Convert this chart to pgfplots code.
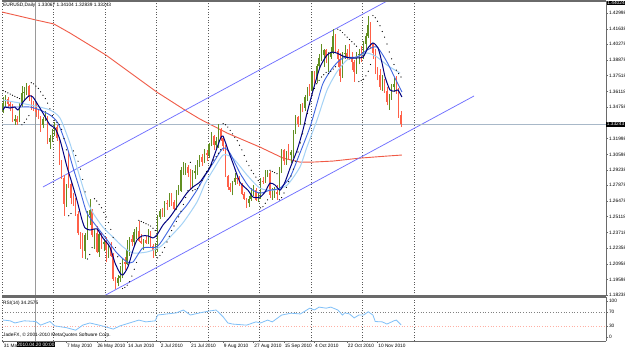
\documentclass[border=0pt]{standalone}
\usepackage{pgfplots}
\pgfplotsset{compat=1.18}
\usepackage{pgfplotstable}
\usepackage{fontspec}
\setmainfont{Liberation Sans}

\definecolor{upc}{HTML}{628F22}
\definecolor{dnc}{HTML}{FF6048}
\definecolor{navyc}{HTML}{000080}
\definecolor{midb}{HTML}{3F66E0}
\definecolor{lightb}{HTML}{A4D2F6}
\definecolor{ma200}{HTML}{F05A46}
\definecolor{chan}{HTML}{7070FF}
\definecolor{pline}{HTML}{A8B8C8}
\definecolor{rsic}{HTML}{80C0F8}
\definecolor{framec}{HTML}{6A6A6A}
\definecolor{gridc}{HTML}{5A5A5A}
\definecolor{crossc}{HTML}{9A9A9A}
\definecolor{sarc}{HTML}{8A8A8A}
\newcommand\tf{\fontsize{4.8}{5.4}\selectfont}
\pgfplotsset{gridsty/.style={dash pattern=on 0.9bp off 1.8bp, gridc, line width=0.55bp}}

\pgfplotstableread{
i o h l c
0 1.3440 1.3560 1.3420 1.3510
1 1.3510 1.3580 1.3480 1.3550
2 1.3550 1.3560 1.3480 1.3500
3 1.3500 1.3530 1.3440 1.3485
4 1.3485 1.3500 1.3340 1.3355
5 1.3355 1.3410 1.3320 1.3370
6 1.3370 1.3400 1.3320 1.3345
7 1.3345 1.3510 1.3340 1.3490
8 1.3490 1.3660 1.3480 1.3600
9 1.3600 1.3650 1.3540 1.3610
10 1.3610 1.3690 1.3580 1.3660
11 1.3660 1.3670 1.3530 1.3560
12 1.3560 1.3580 1.3450 1.3500
13 1.3500 1.3530 1.3440 1.3480
14 1.3480 1.3520 1.3390 1.3430
15 1.3430 1.3460 1.3370 1.3390
16 1.3390 1.3400 1.3260 1.3320
17 1.3320 1.3390 1.3290 1.3370
18 1.3370 1.3440 1.3350 1.3380
19 1.3380 1.3400 1.3150 1.3170
20 1.3170 1.3230 1.3110 1.3200
21 1.3200 1.3280 1.3170 1.3250
22 1.3250 1.3340 1.3220 1.3300
23 1.3300 1.3320 1.3180 1.3200
24 1.3200 1.3210 1.2970 1.2990
25 1.2990 1.3010 1.2840 1.2850
26 1.2850 1.2880 1.2520 1.2620
27 1.2620 1.2800 1.2600 1.2750
28 1.2880 1.3090 1.2760 1.2800
29 1.2800 1.2830 1.2620 1.2680
30 1.2680 1.2720 1.2610 1.2630
31 1.2630 1.2680 1.2520 1.2540
32 1.2540 1.2560 1.2350 1.2370
33 1.2370 1.2380 1.2230 1.2340
34 1.2340 1.2370 1.2150 1.2210
35 1.2210 1.2370 1.2140 1.2350
36 1.2350 1.2560 1.2310 1.2530
37 1.2530 1.2670 1.2440 1.2570
38 1.2570 1.2580 1.2330 1.2350
39 1.2350 1.2400 1.2230 1.2370
40 1.2370 1.2430 1.2190 1.2200
41 1.2200 1.2380 1.2160 1.2360
42 1.2360 1.2380 1.2230 1.2270
43 1.2270 1.2320 1.2210 1.2290
44 1.2290 1.2330 1.2110 1.2220
45 1.2220 1.2270 1.2150 1.2225
46 1.2225 1.2290 1.2160 1.2170
47 1.2170 1.2190 1.1950 1.1960
48 1.1960 1.1980 1.1880 1.1930
49 1.1930 1.2000 1.1900 1.1970
50 1.1970 1.2080 1.1940 1.1990
51 1.1990 1.2140 1.1970 1.2110
52 1.2110 1.2160 1.2040 1.2100
53 1.2100 1.2310 1.2090 1.2220
54 1.2220 1.2330 1.2170 1.2320
55 1.2320 1.2350 1.2250 1.2290
56 1.2290 1.2400 1.2250 1.2380
57 1.2380 1.2420 1.2320 1.2390
58 1.2390 1.2470 1.2290 1.2300
59 1.2300 1.2360 1.2270 1.2280
60 1.2280 1.2320 1.2220 1.2310
61 1.2310 1.2340 1.2270 1.2280
62 1.2280 1.2400 1.2270 1.2380
63 1.2380 1.2390 1.2240 1.2250
64 1.2250 1.2270 1.2150 1.2210
65 1.2210 1.2280 1.2170 1.2230
66 1.2230 1.2530 1.2200 1.2510
67 1.2510 1.2580 1.2490 1.2560
68 1.2560 1.2590 1.2510 1.2530
69 1.2530 1.2650 1.2510 1.2630
70 1.2630 1.2660 1.2570 1.2620
71 1.2620 1.2720 1.2600 1.2700
72 1.2700 1.2720 1.2610 1.2640
73 1.2640 1.2660 1.2560 1.2580
74 1.2580 1.2750 1.2570 1.2730
75 1.2730 1.2790 1.2700 1.2740
76 1.2740 1.2950 1.2730 1.2920
77 1.2920 1.2990 1.2880 1.2930
78 1.2930 1.2980 1.2880 1.2950
79 1.2950 1.2970 1.2860 1.2900
80 1.2900 1.2930 1.2750 1.2770
81 1.2770 1.2920 1.2760 1.2900
82 1.2900 1.2970 1.2840 1.2910
83 1.2910 1.3010 1.2880 1.2990
84 1.2990 1.3050 1.2950 1.3040
85 1.3040 1.3060 1.2960 1.2990
86 1.2990 1.3110 1.2980 1.3070
87 1.3070 1.3100 1.3000 1.3050
88 1.3050 1.3160 1.3030 1.3150
89 1.3150 1.3260 1.3130 1.3220
90 1.3220 1.3230 1.3100 1.3140
91 1.3140 1.3210 1.3120 1.3180
92 1.3180 1.3330 1.3120 1.3280
93 1.3280 1.3290 1.3180 1.3200
94 1.3200 1.3220 1.3090 1.3130
95 1.3130 1.3140 1.2860 1.2870
96 1.2870 1.2880 1.2750 1.2770
97 1.2770 1.2810 1.2730 1.2750
98 1.2750 1.2830 1.2700 1.2820
99 1.2820 1.2900 1.2790 1.2850
100 1.2850 1.2880 1.2800 1.2840
101 1.2840 1.2870 1.2780 1.2800
102 1.2800 1.2810 1.2700 1.2710
103 1.2710 1.2730 1.2660 1.2670
104 1.2670 1.2680 1.2590 1.2630
105 1.2630 1.2690 1.2600 1.2670
106 1.2670 1.2760 1.2650 1.2720
107 1.2720 1.2790 1.2690 1.2750
108 1.2750 1.2760 1.2650 1.2660
109 1.2660 1.2720 1.2640 1.2680
110 1.2680 1.2850 1.2670 1.2830
111 1.2830 1.2860 1.2800 1.2820
112 1.2820 1.2920 1.2810 1.2890
113 1.2890 1.2920 1.2860 1.2900
114 1.2900 1.2910 1.2680 1.2700
115 1.2700 1.2760 1.2660 1.2720
116 1.2720 1.2770 1.2680 1.2730
117 1.2730 1.2790 1.2660 1.2710
118 1.2710 1.2950 1.2700 1.2930
119 1.2930 1.3110 1.2900 1.3100
120 1.3100 1.3110 1.2970 1.3000
121 1.3000 1.3090 1.2970 1.3070
122 1.3070 1.3150 1.3010 1.3050
123 1.3050 1.3100 1.2980 1.3080
124 1.3080 1.3270 1.3030 1.3250
125 1.3250 1.3410 1.3240 1.3390
126 1.3390 1.3400 1.3300 1.3330
127 1.3330 1.3500 1.3320 1.3490
128 1.3490 1.3510 1.3430 1.3470
129 1.3470 1.3580 1.3440 1.3560
130 1.3560 1.3650 1.3530 1.3630
131 1.3630 1.3680 1.3570 1.3620
132 1.3620 1.3790 1.3610 1.3780
133 1.3780 1.3790 1.3680 1.3720
134 1.3720 1.3850 1.3690 1.3840
135 1.3840 1.3940 1.3820 1.3910
136 1.3910 1.4030 1.3880 1.3930
137 1.3930 1.3990 1.3830 1.3980
138 1.3980 1.3990 1.3860 1.3910
139 1.3910 1.3960 1.3780 1.3920
140 1.3920 1.4000 1.3900 1.3950
141 1.3950 1.4160 1.3940 1.4100
142 1.4100 1.4120 1.3950 1.3970
143 1.3970 1.3990 1.3830 1.3900
144 1.3900 1.3950 1.3700 1.3750
145 1.3750 1.3960 1.3730 1.3940
146 1.3940 1.4020 1.3900 1.3950
147 1.3950 1.3990 1.3890 1.3920
148 1.3920 1.4030 1.3890 1.3900
149 1.3900 1.3960 1.3800 1.3870
150 1.3870 1.3890 1.3700 1.3780
151 1.3780 1.3960 1.3770 1.3930
152 1.3930 1.3990 1.3850 1.3940
153 1.3940 1.4010 1.3870 1.3930
154 1.3930 1.4060 1.3900 1.4030
155 1.4030 1.4130 1.3970 1.4100
156 1.4100 1.4280 1.4080 1.4200
157 1.4200 1.4220 1.3990 1.4030
158 1.4030 1.4040 1.3900 1.3950
159 1.3950 1.3990 1.3770 1.3780
160 1.3780 1.3830 1.3710 1.3760
161 1.3760 1.3810 1.3630 1.3650
162 1.3650 1.3760 1.3620 1.3700
163 1.3700 1.3720 1.3600 1.3620
164 1.3620 1.3650 1.3490 1.3520
165 1.3520 1.3590 1.3450 1.3550
166 1.3550 1.3680 1.3540 1.3650
167 1.3650 1.3730 1.3610 1.3680
168 1.3680 1.3750 1.3590 1.3620
169 1.3620 1.3640 1.3380 1.3410
170 1.3410 1.3440 1.3300 1.3324
}\ohlc

\pgfplotstableread{
i p
0 1.3450
0.8 1.3476
2.9 1.3467
5.0 1.3476
6.3 1.3450
8.5 1.3520
11.0 1.3573
12.7 1.3564
14.9 1.3494
17.0 1.3423
20.0 1.3318
22.1 1.3292
24.3 1.3186
27.3 1.2949
29.4 1.2808
31.5 1.2659
33.7 1.2483
35.0 1.2413
37.1 1.2395
40.1 1.2404
42.6 1.2325
45.6 1.2246
47.8 1.2105
49.9 1.2017
51.2 1.2000
53.3 1.2070
55.5 1.2220
57.2 1.2307
59.3 1.2343
61.9 1.2343
64.0 1.2325
65.7 1.2351
68.3 1.2439
71.3 1.2509
74.3 1.2597
76.4 1.2659
78.5 1.2720
81.1 1.2773
84.1 1.2817
86.2 1.2879
88.4 1.2949
92.6 1.3186
93.9 1.3221
96.1 1.3098
98.2 1.2982
101.2 1.2815
104.6 1.2745
106.8 1.2684
109.7 1.2684
111.9 1.2728
114.0 1.2807
116.2 1.2790
118.3 1.2745
120.4 1.2815
122.6 1.2939
125.6 1.3097
128.1 1.3273
129.8 1.3420
132.4 1.3620
135.4 1.3827
138.4 1.3933
140.5 1.3959
142.6 1.3950
145.2 1.3924
148.2 1.3907
151.2 1.3907
153.8 1.3916
155.9 1.3995
158.0 1.4039
160.2 1.3995
161.9 1.3863
163.2 1.3740
165.3 1.3626
167.4 1.3617
168.7 1.3626
170.4 1.3564
}\maFast

\pgfplotstableread{
i p
0 1.3476
7.2 1.3476
11.5 1.3476
15.7 1.3450
20.0 1.3406
23.4 1.3335
27.3 1.3124
29.8 1.2948
32.8 1.2747
35.8 1.2545
40.1 1.2422
44.4 1.2308
48.6 1.2193
52.9 1.2114
55.5 1.2114
59.7 1.2237
65.7 1.2246
70.0 1.2369
74.3 1.2510
78.5 1.2614
82.8 1.2746
86.2 1.2870
89.7 1.2983
94.0 1.3115
96.9 1.3071
101.2 1.2895
105.5 1.2763
109.7 1.2719
114.0 1.2745
118.3 1.2763
122.6 1.2859
126.8 1.3070
131.1 1.3299
134.0 1.3500
136.7 1.3686
141.0 1.3827
145.2 1.3907
151.2 1.3916
155.5 1.3977
159.7 1.4004
164.0 1.3872
167.4 1.3731
170.4 1.3608
}\maMid

\pgfplotstableread{
i p
0 1.3537
7.2 1.3511
13.6 1.3485
20.0 1.3450
24.3 1.3379
28.5 1.3159
31.5 1.2948
35.8 1.2658
38.4 1.2544
42.6 1.2421
46.9 1.2333
51.2 1.2246
55.5 1.2193
61.5 1.2202
67.0 1.2246
71.3 1.2333
76.8 1.2457
82.8 1.2640
86.2 1.2800
89.7 1.2922
94.0 1.3054
98.2 1.3027
104.2 1.2878
109.7 1.2763
115.3 1.2745
121.3 1.2789
126.8 1.2948
129.8 1.3124
134.1 1.3361
138.4 1.3625
142.6 1.3784
146.9 1.3889
151.2 1.3916
155.5 1.3951
159.7 1.3916
164.0 1.3845
167.4 1.3801
169.6 1.3775
}\maSlow

\pgfplotstableread{
i p
-0.5 1.4311
14.0 1.4241
21.7 1.4206
28.5 1.4127
43.9 1.3933
65.7 1.3607
77.7 1.3449
84.1 1.3370
95.7 1.3247
109.7 1.3124
119.6 1.3027
126.8 1.2992
132.4 1.2992
140.9 1.3001
152.5 1.3027
164.0 1.3045
170.4 1.3054
}\maLong

\pgfplotstableread{
i s
0 1.3620
1 1.3610
2 1.3600
3 1.3590
4 1.3580
5 1.3570
6 1.3560
7 1.3550
8 1.3320
9 1.3340
10 1.3370
11 1.3400
12 1.3690
13 1.3680
14 1.3660
15 1.3640
16 1.3610
17 1.3580
18 1.3550
19 1.3510
20 1.3460
21 1.3400
22 1.3360
23 1.3340
24 1.3320
25 1.3280
26 1.3200
27 1.3100
28 1.2520
29 1.2540
30 1.3090
31 1.3050
32 1.3000
33 1.2930
34 1.2840
35 1.2730
36 1.2140
37 1.2180
38 1.2240
39 1.2670
40 1.2650
41 1.2620
42 1.2590
43 1.2550
44 1.2510
45 1.2460
46 1.2400
47 1.2330
48 1.2240
49 1.2160
50 1.2100
51 1.1880
52 1.1890
53 1.1910
54 1.1940
55 1.1990
56 1.2050
57 1.2110
58 1.2480
59 1.2470
60 1.2460
61 1.2450
62 1.2440
63 1.2430
64 1.2410
65 1.2390
66 1.2150
67 1.2170
68 1.2200
69 1.2240
70 1.2290
71 1.2340
72 1.2390
73 1.2430
74 1.2470
75 1.2510
76 1.2560
77 1.2620
78 1.2680
79 1.2740
80 1.2990
81 1.2740
82 1.2750
83 1.2760
84 1.2790
85 1.2830
86 1.2870
87 1.2910
88 1.2940
89 1.2970
90 1.3010
91 1.3040
92 1.3070
93 1.3100
94 1.3330
95 1.3320
96 1.3300
97 1.3270
98 1.3240
99 1.3210
100 1.3180
101 1.3140
102 1.3100
103 1.3050
104 1.3000
105 1.2960
106 1.2920
107 1.2890
108 1.2860
109 1.2830
110 1.2590
111 1.2600
112 1.2630
113 1.2660
114 1.2920
115 1.2910
116 1.2900
117 1.2890
118 1.2660
119 1.2680
120 1.2720
121 1.2770
122 1.2820
123 1.2870
124 1.2930
125 1.3000
126 1.3080
127 1.3160
128 1.3240
129 1.3330
130 1.3420
131 1.3500
132 1.3580
133 1.3640
134 1.3680
135 1.3710
136 1.3740
137 1.3760
138 1.3780
139 1.3770
140 1.3790
141 1.3810
142 1.3830
143 1.4160
144 1.4150
145 1.4130
146 1.4110
147 1.4090
148 1.4070
149 1.4050
150 1.4030
151 1.4010
152 1.3700
153 1.3710
154 1.3720
155 1.3750
156 1.3790
157 1.3850
158 1.4280
159 1.4260
160 1.4230
161 1.4190
162 1.4140
163 1.4090
164 1.4030
165 1.3960
166 1.3900
167 1.3850
168 1.3800
169 1.3770
170 1.3740
}\sar

\pgfplotstableread{
i r
0 47
3 45
5 39
9 45
14 43
16 33
20 43
22 31
27 26
31 19
34 33
37 39
41 33
44 28
47 22
50 31
54 39
58 47
61 42
65 45
66 61
70 64
74 67
77 75
80 61
84 67
88 72
91 75
94 56
96 39
98 36
104 33
108 42
110 39
113 47
115 42
119 61
123 66
127 64
131 80
133 75
135 83
138 80
140 83
143 75
145 61
146 67
148 64
150 53
152 61
154 61
156 70
158 61
159 43
162 42
164 36
167 45
168 47
170 34
}\rsi

\begin{document}
\begin{tikzpicture}
\path[use as bounding box] (0bp,0bp) rectangle (625bp,349bp);
\fill[white] (0bp,0bp) rectangle (625bp,349bp);

% ---------------- main price panel ----------------
\begin{axis}[
  at={(2bp,53bp)}, anchor=south west, scale only axis,
  width=604bp, height=295bp,
  xmin=-0.5, xmax=257.6, ymin=1.18149, ymax=1.4408,
  clip mode=individual,
  axis line style={draw=none},
  xtick={-0.5,21.5,43.5,65.5,87.5,109.5,131.5,153.5,175.5},
  xticklabels={},
  xmajorgrids=true,
  major grid style={gridsty},
  xtick style={draw=none},
  ytick={1.42998,1.41638,1.40278,1.38878,1.37518,1.36118,1.34758,1.31998,1.30598,1.29238,1.27878,1.26478,1.25118,1.23718,1.22358,1.20958,1.19598,1.18238},
  yticklabels={1.42998,1.41638,1.40278,1.38878,1.37518,1.36118,1.34758,1.31998,1.30598,1.29238,1.27878,1.26478,1.25118,1.23718,1.22358,1.20958,1.19598,1.18238},
  ytick pos=right, yticklabel pos=right,
  scaled y ticks=false,
  tick align=outside,
  ytick style={framec, line width=0.5bp},
  major tick length=2bp,
  yticklabel style={font=\tf, inner sep=0.8bp, text=black},
]
\addplot[ma200, line width=0.9bp] table[x=i,y=p]{\maLong};
\addplot[chan, line width=0.75bp] coordinates {(17.0,1.2773) (170.0,1.4474)};
\addplot[chan, line width=0.75bp] coordinates {(40.0,1.1781) (201.2,1.3573)};
\addplot[pline, line width=0.8bp] coordinates {(-0.5,1.33243) (257.6,1.33243)};
\addplot[crossc, line width=1.1bp] coordinates {(14,1.18149) (14,1.4408)};
% wicks
\addplot[upc, line width=0.5bp, -, quiver={u=0, v=\thisrow{h}-\thisrow{l}},
  x filter/.expression={\thisrow{c}<\thisrow{o} ? nan : x}] table[x=i,y=l]{\ohlc};
\addplot[dnc, line width=0.5bp, -, quiver={u=0, v=\thisrow{h}-\thisrow{l}},
  x filter/.expression={\thisrow{c}<\thisrow{o} ? x : nan}] table[x=i,y=l]{\ohlc};
% bodies
\addplot[upc, line width=1.5bp, -, quiver={u=0, v=\thisrow{c}-\thisrow{o}},
  x filter/.expression={\thisrow{c}<\thisrow{o} ? nan : x}] table[x=i,y=o]{\ohlc};
\addplot[dnc, line width=1.5bp, -, quiver={u=0, v=\thisrow{c}-\thisrow{o}},
  x filter/.expression={\thisrow{c}<\thisrow{o} ? x : nan}] table[x=i,y=o]{\ohlc};
% moving averages
\addplot[lightb, line width=1bp, smooth, tension=0.4] table[x=i,y=p]{\maSlow};
\addplot[midb, line width=0.9bp, smooth, tension=0.4] table[x=i,y=p]{\maMid};
\addplot[navyc, line width=1bp, smooth, tension=0.4] table[x=i,y=p]{\maFast};
% parabolic SAR
\addplot[only marks, mark=*, mark size=0.33bp, mark options={draw=none, fill=sarc}] table[x=i,y=s]{\sar};
% frame
\draw[framec, line width=1.4bp] (rel axis cs:0,1) -- (rel axis cs:1,1);
\draw[framec, line width=1.2bp] (rel axis cs:0,0) -- (rel axis cs:1,0);
\draw[framec, line width=0.8bp] (rel axis cs:1,0) -- (rel axis cs:1,1);
\node[fill=black, text=white, font=\tf, inner sep=0.7bp, anchor=west] at (axis cs:257.6,1.33243) {1.33243};
\end{axis}

% ---------------- RSI panel ----------------
\begin{axis}[
  at={(2bp,8bp)}, anchor=south west, scale only axis,
  width=604bp, height=44bp,
  xmin=-0.5, xmax=257.6, ymin=-11, ymax=111,
  clip mode=individual,
  axis line style={draw=none},
  xtick={0,27,40,53,67,80,94,107,120,133,147,160},
  xticklabels={31 Mar 2010,7 May 2010,26 May 2010,14 Jun 2010,2 Jul 2010,21 Jul 2010,9 Aug 2010,27 Aug 2010,15 Sep 2010,4 Oct 2010,22 Oct 2010,10 Nov 2010},
  xtick pos=bottom,
  xticklabel style={font=\tf, anchor=north west, inner sep=0.6bp, text=black},
  extra x ticks={-0.5,21.5,43.5,65.5,87.5,109.5,131.5,153.5,175.5},
  extra x tick labels={},
  extra x tick style={grid=major, major tick length=0pt},
  major grid style={gridsty},
  ytick={0,30,70,100}, yticklabels={0,30,70,100},
  ytick pos=right, yticklabel pos=right,
  tick align=outside, major tick length=2bp,
  tick style={framec, line width=0.5bp},
  yticklabel style={font=\tf, inner sep=0.8bp, text=black},
]
\addplot[gray, dash pattern=on 0.9bp off 1.8bp, line width=0.5bp] coordinates {(-0.5,70) (257.6,70)};
\addplot[dnc!50, dash pattern=on 0.9bp off 1.8bp, line width=0.5bp] coordinates {(-0.5,30) (257.6,30)};
\addplot[crossc, line width=1.1bp] coordinates {(14,-11) (14,111)};
\addplot[rsic, line width=0.8bp] table[x=i,y=r]{\rsi};
\draw[framec, line width=1.4bp] (rel axis cs:0,1) -- (rel axis cs:1,1);
\draw[framec, line width=0.8bp] (rel axis cs:0,0) -- (rel axis cs:1,0);
\draw[framec, line width=0.8bp] (rel axis cs:1,0) -- (rel axis cs:1,1);
\end{axis}

\node[anchor=west, font=\tf, inner sep=0] at (3bp,343.5bp) {EURUSD,Daily\ \ 1.33067 1.34104 1.32839 1.33243};
\node[anchor=west, font=\tf, inner sep=0] at (3bp,45.5bp) {RSI(14) 34.2575};
\node[anchor=west, font=\tf, inner sep=0] at (3bp,14bp) {JadeFX, © 2001-2010 MetaQuotes Software Corp.};
\node[fill=black, text=white, font=\tf, inner sep=0.7bp] at (35.9bp,4.3bp) {2010.04.20 00:00};
\node[fill=black, text=white, font=\tf, inner sep=0.7bp, anchor=west] at (606.5bp,346bp) {1.44024};
\end{tikzpicture}
\end{document}
